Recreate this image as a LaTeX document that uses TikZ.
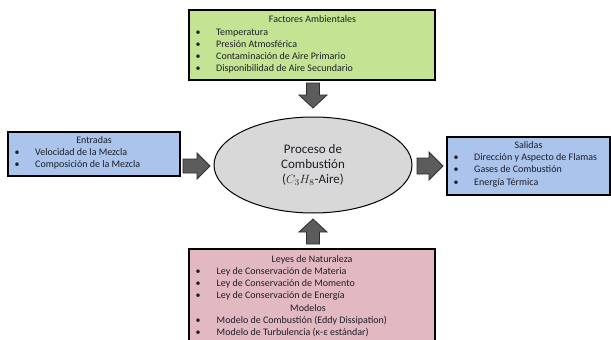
\documentclass[tikz,border=0pt]{standalone}
\usepackage{fontspec}
\setmainfont{Carlito}
\usetikzlibrary{shapes.geometric}
\definecolor{boxgreen}{RGB}{196,228,148}
\definecolor{boxblue}{RGB}{170,196,236}
\definecolor{boxpink}{RGB}{226,184,193}
\definecolor{ellgray}{RGB}{216,216,216}
\definecolor{arrfill}{RGB}{92,92,92}
\definecolor{arrdraw}{RGB}{45,45,45}
\definecolor{txt}{RGB}{30,30,40}
\tikzset{
  panel/.style={draw=black, line width=1.1pt},
  ttl/.style={font=\fontsize{10}{12}\selectfont, text=txt, inner sep=0pt, anchor=mid},
  itm/.style={font=\fontsize{10}{12}\selectfont, text=txt, inner sep=0pt, anchor=mid west},
  bul/.style={font=\fontsize{10}{12}\selectfont, text=txt, inner sep=0pt, anchor=mid},
  ell/.style={ellipse, draw=black, line width=1pt, fill=ellgray, inner sep=0pt},
  etext/.style={font=\fontsize{13}{15}\selectfont, text=txt, inner sep=0pt, anchor=mid},
  blockarrow/.style={fill=arrfill, draw=arrdraw, line width=0.8pt, line join=miter}
}
\begin{document}
\begin{tikzpicture}[x=1pt,y=-1pt]
\clip (0,0) rectangle (611,340);
\fill[white] (0,0) rectangle (611,340);

% Top box
\draw[panel, fill=boxgreen] (189,10) rectangle (435,80);
\node[ttl] (t0) at (312.5,20.5) {Factores Ambientales};
\foreach \t [count=\i] in {Temperatura,Presión Atmosférica,Contaminación de Aire Primario,Disponibilidad de Aire Secundario}{
  \node[bul] (tb\i) at (198,{20.5+12.2*\i}) {\textbullet};
  \node[itm] (ti\i) at (216,{20.5+12.2*\i}) {\t};
}

% Left box
\draw[panel, fill=boxblue] (8,132) rectangle (180,176);
\node[ttl] (l0) at (94,141.5) {Entradas};
\foreach \t [count=\i] in {Velocidad de la Mezcla,Composición de la Mezcla}{
  \node[bul] (lb\i) at (17,{141.5+12*\i}) {\textbullet};
  \node[itm] (li\i) at (35,{141.5+12*\i}) {\t};
}

% Right box
\draw[panel, fill=boxblue] (447,137) rectangle (610,195);
\node[ttl] (r0) at (528.5,146) {Salidas};
\foreach \t [count=\i] in {Dirección y Aspecto de Flamas,Gases de Combustión,Energía Térmica}{
  \node[bul] (rb\i) at (456,{146+12.3*\i}) {\textbullet};
  \node[itm] (ri\i) at (474,{146+12.3*\i}) {\t};
}

% Bottom box
\draw[panel, fill=boxpink] (189,249) rectangle (435,360);
\node[ttl] (b0) at (312,260) {Leyes de Naturaleza};
\foreach \t [count=\i] in {Ley de Conservación de Materia,Ley de Conservación de Momento,Ley de Conservación de Energía}{
  \node[bul] (bb\i) at (198,{260+12.2*\i}) {\textbullet};
  \node[itm] (bi\i) at (216.5,{260+12.2*\i}) {\t};
}
\node[ttl] (bm) at (308,309) {Modelos};
\node[bul] (bb4) at (198,321.3) {\textbullet};
\node[itm] (bi4) at (216.5,321.3) {Modelo de Combustión (Eddy Dissipation)};
\node[bul] (bb5) at (198,333) {\textbullet};
\node[itm] (bi5) at (216.5,333) {Modelo de Turbulencia (κ-ε estándar)};

% Ellipse
\node[ell, minimum width=198pt, minimum height=96pt] (proc) at (313,165) {};
\node[etext] (e1) at (313,151) {Proceso de};
\node[etext] (e2) at (313,166.5) {Combustión};
\node[etext] (e3) at (313,181) {($C_3H_8$-Aire)};

% Block arrows
\draw[blockarrow] (306.5,83) -- (319.5,83) -- (319.5,95) -- (327,95) -- (313,108) -- (299,95) -- (306.5,95) -- cycle;
\draw[blockarrow] (306.5,244) -- (319.5,244) -- (319.5,232) -- (327,232) -- (313,219) -- (299,232) -- (306.5,232) -- cycle;
\draw[blockarrow] (183,159) -- (197,159) -- (197,153) -- (210,166) -- (197,179) -- (197,173) -- (183,173) -- cycle;
\draw[blockarrow] (417,158) -- (429,158) -- (429,152) -- (443,166) -- (429,180) -- (429,174) -- (417,174) -- cycle;
\end{tikzpicture}
\end{document}
